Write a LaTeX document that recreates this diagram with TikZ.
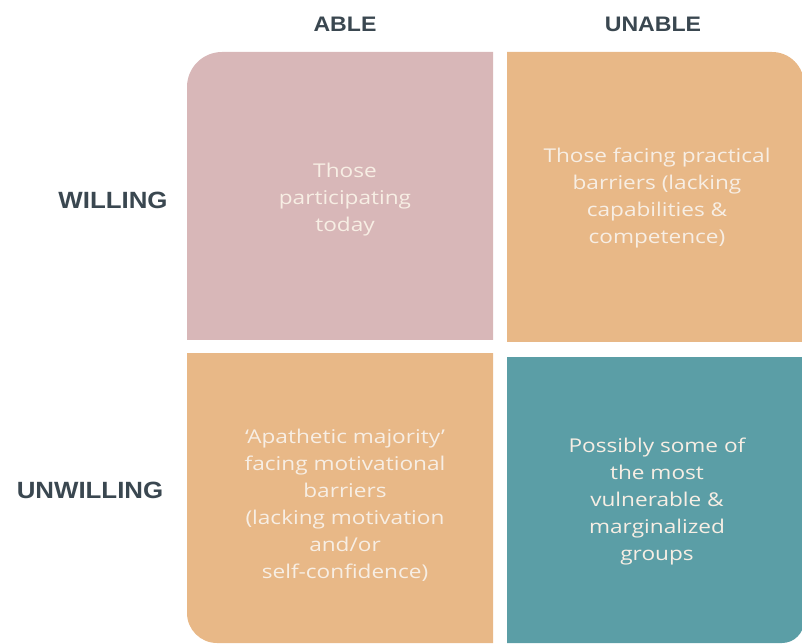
\documentclass[tikz,border=0pt]{standalone}
\usepackage{fontspec}
\setmainfont{Open Sans}[FakeStretch=1.19]
\newfontfamily\headfont{Liberation Sans}[FakeStretch=1.1]
\definecolor{pinkq}{HTML}{D8B7B8}
\definecolor{orangeq}{HTML}{E8B887}
\definecolor{tealq}{HTML}{5B9EA6}
\definecolor{headc}{HTML}{3A4750}
\definecolor{txtc}{HTML}{F7EEE4}
\tikzset{
  x=1pt, y=1pt,
  head/.style={font=\headfont\bfseries\fontsize{21}{24}\selectfont, text=headc, inner sep=0pt},
  sidehead/.style={head, font=\headfont\bfseries\fontsize{23.5}{26}\selectfont},
  body/.style={font=\fontsize{19}{27}\selectfont, text=txtc, align=center, inner sep=0pt},
}
\begin{document}
\begin{tikzpicture}
\useasboundingbox (0,0) rectangle (802,643);
% quadrants (y = 643 - pixel row)
\fill[pinkq] (187,303) -- (187,556) arc[start angle=180, end angle=90, radius=35] -- (493,591) -- (493,303) -- cycle;
\fill[orangeq] (507,301) -- (507,591) -- (772,591) arc[start angle=90, end angle=0, radius=32] -- (804,301) -- cycle;
\fill[orangeq] (187,290) -- (187,30) arc[start angle=180, end angle=270, radius=30] -- (493,0) -- (493,290) -- cycle;
\fill[tealq] (507,286) -- (507,0) -- (782,0) arc[start angle=270, end angle=360, radius=22] -- (804,286) -- cycle;
% headings
\node[head] (able) at (345,619) {ABLE};
\node[head] (unable) at (653,619) {UNABLE};
\node[sidehead] (willing) at (113,443) {WILLING};
\node[sidehead] (unwilling) at (90,153) {UNWILLING};
% texts
\node[body] (t1) at (345,443) {Those\\participating\\today};
\node[body] (t2) at (657,445) {Those facing practical\\barriers (lacking\\capabilities \&\\competence)};
\node[body] (t3) at (345,138) {‘Apathetic majority’\\facing motivational\\barriers\\(lacking motivation\\and/or\\self-confidence)};
\node[body] (t4) at (657,141) {Possibly some of\\the most\\vulnerable \&\\marginalized\\groups};
\end{tikzpicture}
\end{document}
